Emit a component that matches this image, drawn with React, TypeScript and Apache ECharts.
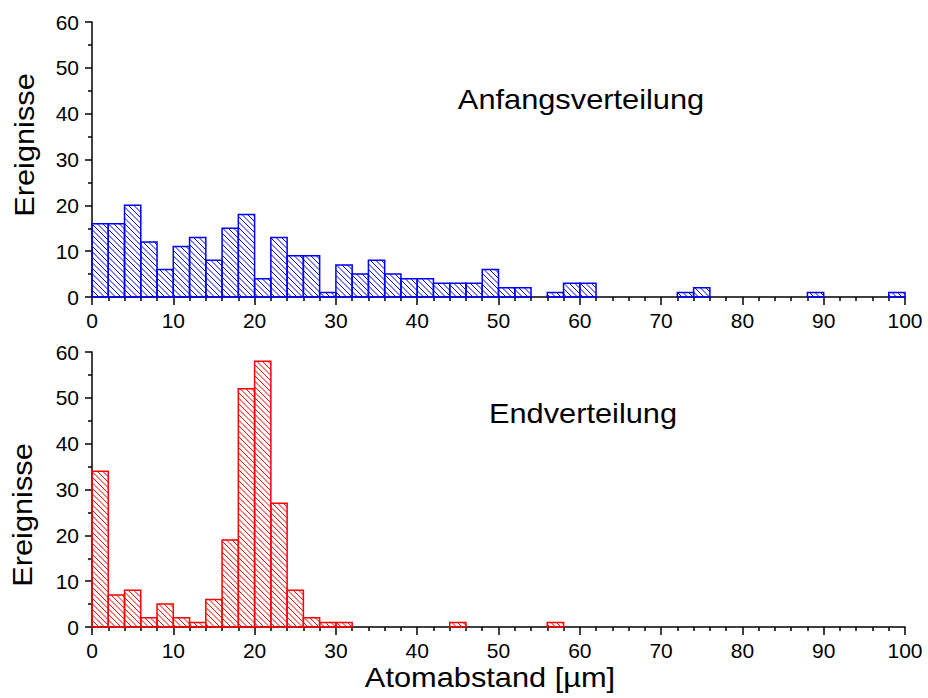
import React, { useEffect, useRef } from "react";
import * as echarts from "echarts";

const binWidth = 2;
const topCounts = [
  16, 16, 20, 12, 6, 11, 13, 8, 15, 18,
  4, 13, 9, 9, 1, 7, 5, 8, 5, 4,
  4, 3, 3, 3, 6, 2, 2, 0, 1, 3,
  3, 0, 0, 0, 0, 0, 1, 2, 0, 0,
  0, 0, 0, 0, 1, 0, 0, 0, 0, 1,
];
const bottomCounts = [
  34, 7, 8, 2, 5, 2, 1, 6, 19, 52,
  58, 27, 8, 2, 1, 1, 0, 0, 0, 0,
  0, 0, 1, 0, 0, 0, 0, 0, 1, 0,
  0, 0, 0, 0, 0, 0, 0, 0, 0, 0,
  0, 0, 0, 0, 0, 0, 0, 0, 0, 0,
];
const xTickLabels = [0, 10, 20, 30, 40, 50, 60, 70, 80, 90, 100];
const yTickLabels = [0, 10, 20, 30, 40, 50, 60];
const topLabel = "Anfangsverteilung";
const bottomLabel = "Endverteilung";
const yTitle = "Ereignisse";
const xTitle = "Atomabstand [µm]";

const FONT = "'Liberation Sans', Arial, Helvetica, sans-serif";

function toBins(counts: number[]) {
  return counts
    .map((c, i) => [i * binWidth, (i + 1) * binWidth, c])
    .filter((d) => d[2] > 0);
}

function makeRender(color: string) {
  return (params: any, api: any) => {
    const x0 = api.value(0);
    const x1 = api.value(1);
    const v = api.value(2);
    const p0 = api.coord([x0, v]);
    const p1 = api.coord([x1, 0]);
    const rx0 = p0[0], ry0 = p0[1], rx1 = p1[0], ry1 = p1[1];
    const children: any[] = [];
    const step = 5.5;
    const cMin = ry0 - rx1;
    const cMax = ry1 - rx0;
    for (let c = Math.ceil(cMin / step) * step; c <= cMax; c += step) {
      const xa = Math.max(rx0, ry0 - c);
      const xb = Math.min(rx1, ry1 - c);
      if (xb - xa > 0.3) {
        children.push({
          type: "line",
          shape: { x1: xa, y1: xa + c, x2: xb, y2: xb + c },
          style: { stroke: color, lineWidth: 1 },
        });
      }
    }
    children.push({
      type: "rect",
      shape: { x: rx0, y: ry0, width: rx1 - rx0, height: ry1 - ry0 },
      style: { fill: "none", stroke: color, lineWidth: 1.5 },
    });
    return { type: "group", children };
  };
}

function xAxisCfg(gridIndex: number) {
  return {
    type: "value",
    gridIndex,
    min: xTickLabels[0],
    max: xTickLabels[xTickLabels.length - 1],
    interval: 10,
    axisLine: { show: true, onZero: false, lineStyle: { color: "#000", width: 1.5 } },
    axisTick: { show: true, inside: false, length: 8, lineStyle: { color: "#000", width: 1.5 } },
    minorTick: { show: true, splitNumber: 5, length: 4, lineStyle: { color: "#000", width: 1.5 } },
    splitLine: { show: false },
    minorSplitLine: { show: false },
    axisLabel: {
      color: "#000",
      fontSize: 21,
      fontFamily: FONT,
      margin: 13,
      formatter: (v: number) => (xTickLabels.includes(v) ? String(v) : ""),
    },
  };
}

function yAxisCfg(gridIndex: number) {
  return {
    type: "value",
    gridIndex,
    min: yTickLabels[0],
    max: yTickLabels[yTickLabels.length - 1],
    interval: 10,
    axisLine: { show: true, onZero: false, lineStyle: { color: "#000", width: 1.5 } },
    axisTick: { show: true, inside: false, length: 7, lineStyle: { color: "#000", width: 1.5 } },
    minorTick: { show: true, splitNumber: 2, length: 4, lineStyle: { color: "#000", width: 1.5 } },
    splitLine: { show: false },
    minorSplitLine: { show: false },
    axisLabel: {
      color: "#000",
      fontSize: 21,
      fontFamily: FONT,
      margin: 13,
      formatter: (v: number) => (yTickLabels.includes(v) ? String(v) : ""),
    },
  };
}

export default function App() {
  const ref = useRef<HTMLDivElement>(null);
  useEffect(() => {
    if (!ref.current) return;
    const chart = echarts.init(ref.current, null, { renderer: "svg" });
    const textStyle = (size: number) => ({
      fill: "#000",
      fontSize: size,
      fontFamily: FONT,
      align: "center",
      verticalAlign: "middle",
    });
    const sx = 1.14;
    const fs = 27;
    chart.setOption({
      animation: false,
      backgroundColor: "#fff",
      grid: [
        { left: 92, right: 23, top: 22, height: 275 },
        { left: 92, right: 23, top: 352, height: 275 },
      ],
      xAxis: [xAxisCfg(0), xAxisCfg(1)],
      yAxis: [yAxisCfg(0), yAxisCfg(1)],
      series: [
        {
          type: "custom",
          xAxisIndex: 0,
          yAxisIndex: 0,
          data: toBins(topCounts),
          encode: { x: [0, 1], y: 2 },
          renderItem: makeRender("#0000ff"),
        },
        {
          type: "custom",
          xAxisIndex: 1,
          yAxisIndex: 1,
          data: toBins(bottomCounts),
          encode: { x: [0, 1], y: 2 },
          renderItem: makeRender("#ff0000"),
        },
      ],
      graphic: [
        { type: "text", x: 581, y: 100, scaleX: sx, style: { text: topLabel, ...textStyle(fs) } },
        { type: "text", x: 583, y: 414, scaleX: sx, style: { text: bottomLabel, ...textStyle(fs) } },
        { type: "text", x: 490, y: 678, scaleX: sx, style: { text: xTitle, ...textStyle(fs) } },
        { type: "text", x: 25, y: 145, scaleX: sx, rotation: Math.PI / 2, style: { text: yTitle, ...textStyle(fs) } },
        { type: "text", x: 23, y: 515, scaleX: sx, rotation: Math.PI / 2, style: { text: yTitle, ...textStyle(fs) } },
      ],
    });
    return () => chart.dispose();
  }, []);
  return <div ref={ref} style={{ width: 928, height: 698, position: "absolute", left: 0, top: 0 }} />;
}
